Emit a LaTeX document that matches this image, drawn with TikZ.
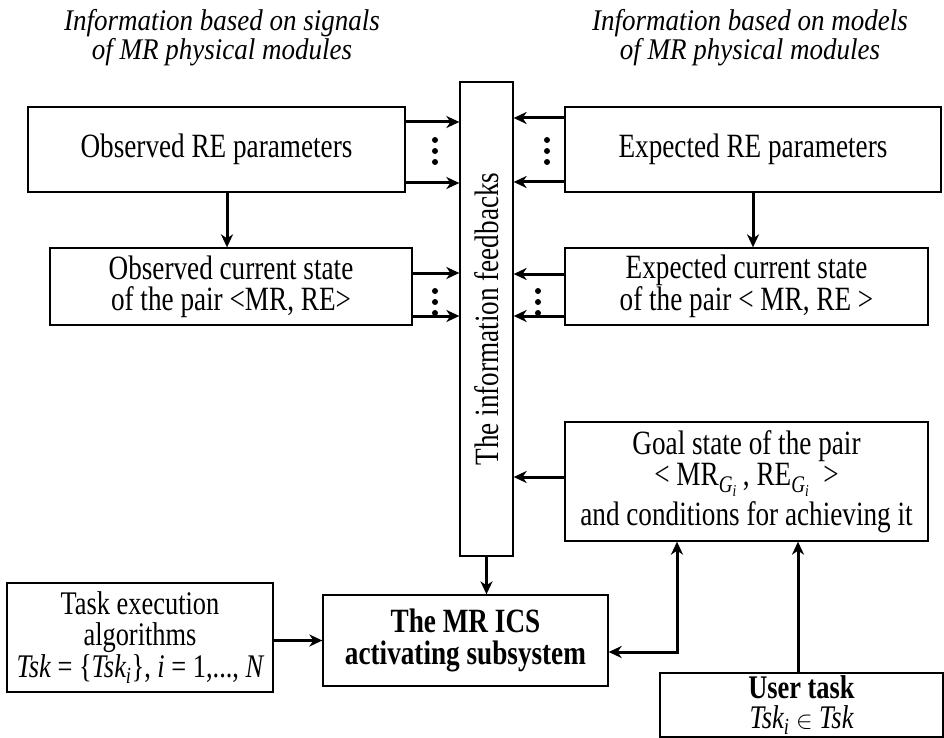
\documentclass[tikz,border=0pt]{standalone}
\usepackage{fontspec}
\setmainfont[FakeStretch=0.8]{Liberation Serif}
\newfontfamily\headfont[FakeStretch=0.9]{Liberation Serif}
\usetikzlibrary{arrows.meta}

\begin{document}
\begin{tikzpicture}[x=1pt,y=-1pt,
			box node/.style={draw,line width=1.3pt,inner sep=0pt,align=center,font=\fontsize{34}{31}\selectfont},
			head node/.style={align=center,inner sep=0pt,font=\headfont\itshape\fontsize{30}{29}\selectfont},
			link/.style={-{Stealth[length=13pt,width=12pt,inset=4pt]},line width=3pt}
			]
			\useasboundingbox (0,0) rectangle (944,738);

			\def \dr {3}

			% headings
			\node[head node] (hsig) at (222,38) {Information based on signals\\of MR physical modules};
			\node[head node] (hmod) at (750,38) {Information based on models\\of MR physical modules};

			% boxes
			\node[box node,minimum width=377pt,minimum height=85pt] (obsRE) at (216.5,149.5) {Observed RE parameters};
			\node[box node,minimum width=362pt,minimum height=77pt] (obsCur) at (231,286.5) {Observed current state\\of the pair <MR, RE>};
			\node[box node,minimum width=376pt,minimum height=85pt] (expRE) at (753,149.5) {Expected RE parameters};
			\node[box node,minimum width=363pt,minimum height=77pt] (expCur) at (746.5,286.5) {Expected current state\\of the pair < MR, RE >};
			\node[box node,minimum width=53pt,minimum height=474pt] (fb) at (486.5,319) {};
			\node[rotate=90,font=\fontsize{34}{31}\selectfont] (fbtext) at (fb.center) {The information feedbacks};
			\node[box node,minimum width=363pt,minimum height=119pt] (goal) at (746.5,481.5)
				{Goal state of the pair\\< MR\textsubscript{\itshape G\textsubscript{i}}\,, RE\textsubscript{\itshape G\textsubscript{i}} \ >\\[4pt]and conditions for achieving it};
			\node[box node,minimum width=266pt,minimum height=109pt,font=\fontsize{33}{31}\selectfont] (algo) at (140,637.5)
				{Task execution\\algorithms\\[1pt]{\itshape Tsk} = \{{\itshape Tsk\textsubscript{i}}\}, {\itshape i} = 1,..., {\itshape N}};
			\node[box node,minimum width=285pt,minimum height=91pt,font=\fontsize{34}{32}\selectfont\bfseries] (ics) at (465.5,640.5)
				{The MR ICS\\activating subsystem};
			\node[box node,minimum width=283pt,minimum height=64pt,font=\fontsize{33}{30}\selectfont] (user) at (801.5,705)
				{\textbf{User task}\\{\itshape Tsk\textsubscript{i}} $\in$ {\itshape Tsk}};

			% feedback arrows
			\draw[link] ([yshift=27.5pt]obsRE.east) -- ([yshift=27.5pt]obsRE.east -| fb.west);
			\draw[link] ([yshift=-33.5pt]obsRE.east) -- ([yshift=-33.5pt]obsRE.east -| fb.west);
			\draw[link] ([yshift=31.5pt]expRE.west) -- ([yshift=31.5pt]expRE.west -| fb.east);
			\draw[link] ([yshift=-32.5pt]expRE.west) -- ([yshift=-32.5pt]expRE.west -| fb.east);
			\draw[link] ([yshift=13.5pt]obsCur.east) -- ([yshift=13.5pt]obsCur.east -| fb.west);
			\draw[link] ([yshift=-29.5pt]obsCur.east) -- ([yshift=-29.5pt]obsCur.east -| fb.west);
			\draw[link] ([yshift=12.5pt]expCur.west) -- ([yshift=12.5pt]expCur.west -| fb.east);
			\draw[link] ([yshift=-29.5pt]expCur.west) -- ([yshift=-29.5pt]expCur.west -| fb.east);
			\draw[link] ([yshift=4.5pt]goal.west) -- ([yshift=4.5pt]goal.west -| fb.east);

			% dots
			\foreach \y in {140,151,162,291,302,313} \fill (435,\y) circle (\dr);
			\foreach \y in {140,151,162} \fill (547,\y) circle (\dr);
			\foreach \y in {291,302,313} \fill (538,\y) circle (\dr);

			% state arrows
			\draw[link] ([xshift=10.5pt]obsRE.south) -- ([xshift=10.5pt]obsRE.south |- obsCur.north);
			\draw[link] (expRE.south) -- (expRE.south |- expCur.north);

			% activating subsystem
			\draw[link] (fb.south) -- (fb.south |- ics.north);
			\draw[link] (algo.east |- ics.west) -- (ics.west);
			\draw[link,{Stealth[length=13pt,width=12pt,inset=4pt]}-{Stealth[length=13pt,width=12pt,inset=4pt]}]
				([yshift=-11.5pt]ics.east) -| ([xshift=-69.5pt]goal.south);
			\draw[link] ([xshift=-3.5pt]user.north) -- ([xshift=-3.5pt]user.north |- goal.south);
		\end{tikzpicture}
\end{document}
